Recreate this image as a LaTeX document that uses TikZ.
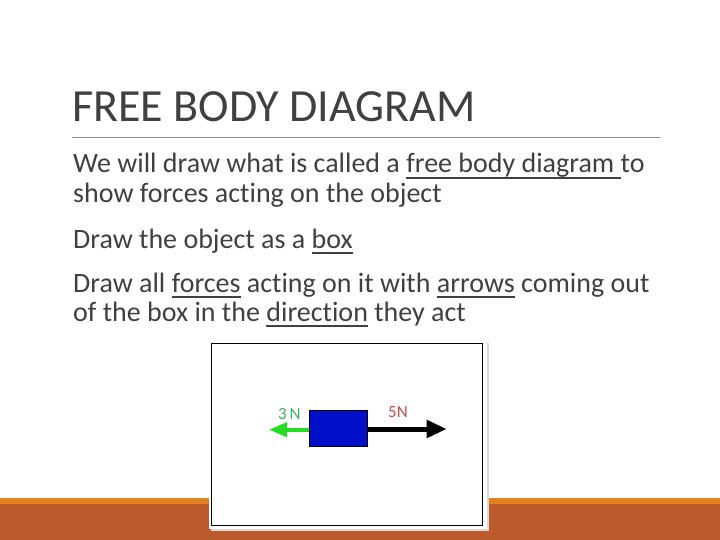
\documentclass[tikz,border=0pt]{standalone}
\usepackage{fontspec}
\setmainfont{Carlito}[Ligatures=NoCommon]
\usetikzlibrary{arrows.meta}
\definecolor{txt}{HTML}{404040}
\definecolor{rust}{HTML}{BC5A2C}
\definecolor{orng}{HTML}{E0831E}
\definecolor{boxblue}{HTML}{0010C8}
\definecolor{arrgreen}{HTML}{22DD22}
\definecolor{lblgreen}{HTML}{3CB062}
\definecolor{lblred}{HTML}{C0504D}
\newcommand\ulx[1]{\setbox0\hbox{#1}\rlap{\rule[-6pt]{\wd0}{1.6pt}}\box0\relax}
\tikzset{
  bodytext/.style={anchor=base west, inner sep=0pt, text=txt, font=\fontsize{28}{28}\selectfont},
  smalllbl/.style={anchor=base west, inner sep=0pt, font=\fontsize{17}{17}\selectfont},
}
\begin{document}
\begin{tikzpicture}[x=1pt,y=-1pt]
\useasboundingbox (0,0) rectangle (720,540);
\fill[white] (0,0) rectangle (720,540);
% bottom bars
\fill[orng] (0,498) rectangle (720,504);
\fill[rust] (0,504) rectangle (720,540);
% title
\node[anchor=base west, inner sep=0pt, text=txt, font=\fontsize{46}{46}\selectfont] (title) at (72,122) {FREE BODY DIAGRAM};
\draw[gray!90, line width=0.8pt] (72,137) -- (660,137);
% body
\node[bodytext] (l1) at (73,173) {We will draw what is called a \ulx{free body diagram\ }to};
\node[bodytext] (l2) at (73,203) {show forces acting on the object};
\node[bodytext] (l3) at (73,248) {Draw the object as a \ulx{box}};
\node[bodytext] (l4) at (73,292) {Draw all \ulx{forces} acting on it with \ulx{arrows} coming out};
\node[bodytext] (l5) at (73,321) {of the box in the \ulx{direction} they act};
% picture frame
\fill[black!15] (211,343) rectangle (489,531);
\fill[white] (209,341) rectangle (487,529);
\draw[black, line width=1.2pt] (211.7,343.3) rectangle (482.7,525.7);
% object
\node[draw=black, fill=boxblue, line width=0.6pt, minimum width=58pt, minimum height=35.7pt, inner sep=0pt, anchor=north west] (obj) at (309.3,410) {};
\coordinate (gtip) at (269,429.7);
\coordinate (btip) at (446.7,429);
\draw[arrgreen, line width=4pt, -{Triangle[length=18pt,width=14pt]}] (obj.west |- gtip) -- (gtip);
\draw[black, line width=5pt, -{Triangle[length=20pt,width=17pt]}] (obj.east |- btip) -- (btip);
\node[smalllbl, text=lblgreen] (l3n) at (278,419) {3\,N};
\node[smalllbl, text=lblred] (l5n) at (388,417) {5N};
\end{tikzpicture}
\end{document}
